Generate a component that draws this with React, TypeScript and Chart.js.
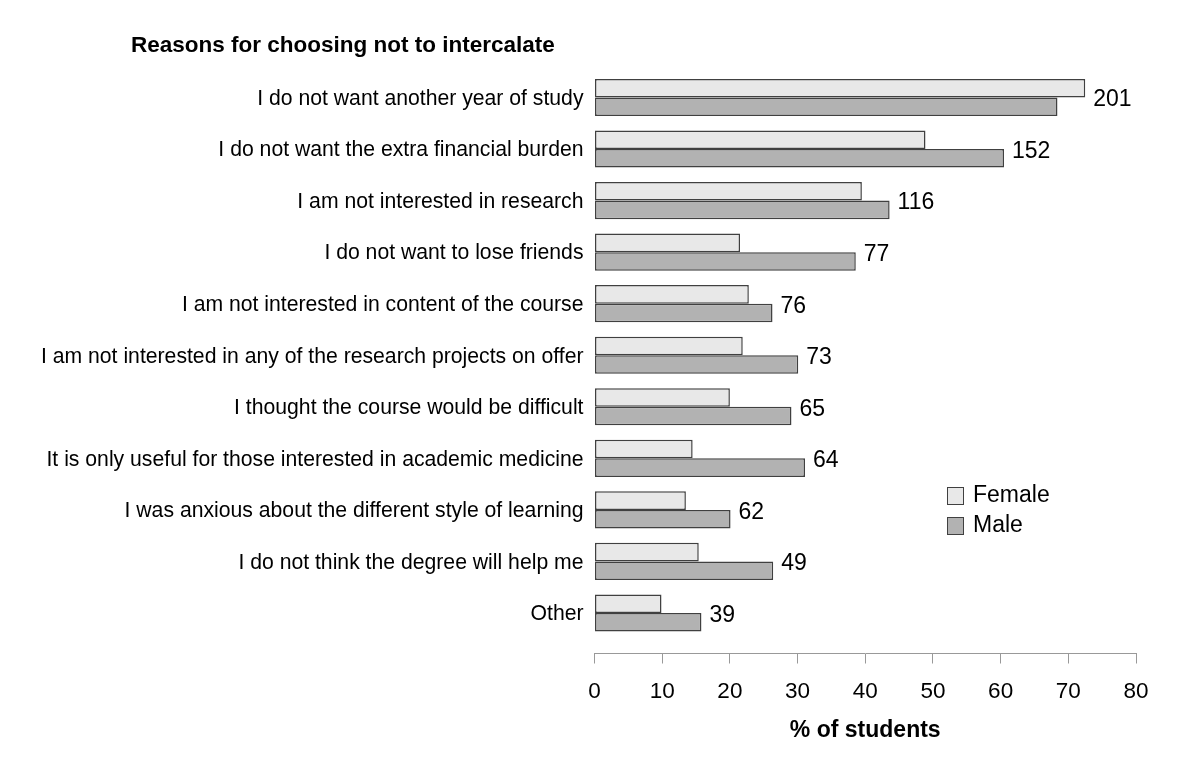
import React, { useEffect, useRef } from 'react';
import { Chart, registerables } from 'chart.js';

Chart.register(...registerables);

const chartTitle = 'Reasons for choosing not to intercalate';
const xAxisTitle = '% of students';

const categories = [
  'I do not want another year of study',
  'I do not want the extra financial burden',
  'I am not interested in research',
  'I do not want to lose friends',
  'I am not interested in content of the course',
  'I am not interested in any of the research projects on offer',
  'I thought the course would be difficult',
  'It is only useful for those interested in academic medicine',
  'I was anxious about the different style of learning',
  'I do not think the degree will help me',
  'Other',
];

const femaleValues = [72.5, 48.9, 39.5, 21.5, 22.8, 21.9, 20.0, 14.5, 13.5, 15.4, 9.9];
const maleValues = [68.4, 60.5, 43.6, 38.6, 26.3, 30.1, 29.1, 31.1, 20.1, 26.4, 15.8];
const respondentCounts = [201, 152, 116, 77, 76, 73, 65, 64, 62, 49, 39];

const xMin = 0;
const xMax = 80;
const xStep = 10;

const FONT = '"Liberation Sans", Arial, Helvetica, sans-serif';

const overlayPlugin = {
  id: 'overlay',
  afterDatasetsDraw(chart: any) {
    const { ctx } = chart;
    const x = chart.scales.x;
    const y = chart.scales.y;
    ctx.save();
    // value labels (number of respondents)
    ctx.font = `23px ${FONT}`;
    ctx.fillStyle = '#000';
    ctx.textAlign = 'left';
    ctx.textBaseline = 'middle';
    respondentCounts.forEach((n, i) => {
      const v = Math.max(femaleValues[i], maleValues[i]);
      ctx.fillText(String(n), x.getPixelForValue(v) + 8, y.getPixelForValue(i) + 2.5);
    });

    // legend
    const lx = 947;
    const ly = 487;
    const gap = 30;
    chart.data.datasets.forEach((ds: any, i: number) => {
      const top = ly + i * gap;
      ctx.fillStyle = ds.backgroundColor;
      ctx.fillRect(lx, top, 16, 17);
      ctx.strokeStyle = ds.borderColor;
      ctx.lineWidth = 1;
      ctx.strokeRect(lx + 0.5, top + 0.5, 16, 17);
      ctx.fillStyle = '#000';
      ctx.font = `23px ${FONT}`;
      ctx.textAlign = 'left';
      ctx.textBaseline = 'middle';
      ctx.fillText(ds.label, lx + 26, top + 9);
    });

    // title
    ctx.font = `bold 22.5px ${FONT}`;
    ctx.fillStyle = '#000';
    ctx.textAlign = 'left';
    ctx.textBaseline = 'middle';
    ctx.fillText(chartTitle, 131, 46);
    ctx.restore();
  },
};

export default function App() {
  const canvasRef = useRef<HTMLCanvasElement | null>(null);

  useEffect(() => {
    if (!canvasRef.current) return;
    const chart = new Chart(canvasRef.current, {
      type: 'bar',
      data: {
        datasets: [
          {
            label: 'Female',
            data: femaleValues.map((v, i) => ({ x: v, y: i })),
            backgroundColor: '#e8e8e8',
            borderColor: '#404040',
            borderWidth: 1.5,
            borderSkipped: false,
            categoryPercentage: 0.72,
            barPercentage: 1,
          },
          {
            label: 'Male',
            data: maleValues.map((v, i) => ({ x: v, y: i })),
            backgroundColor: '#b2b2b2',
            borderColor: '#404040',
            borderWidth: 1.5,
            borderSkipped: false,
            categoryPercentage: 0.72,
            barPercentage: 1,
          },
        ],
      },
      options: {
        indexAxis: 'y',
        animation: false,
        responsive: false,
        devicePixelRatio: 1,
        layout: { padding: { top: 71.7, right: 64, bottom: 0, left: 0 } },
        plugins: {
          legend: { display: false },
          title: { display: false },
          tooltip: { enabled: false },
        },
        scales: {
          x: {
            type: 'linear',
            position: 'bottom',
            min: xMin,
            max: xMax,
            ticks: {
              stepSize: xStep,
              color: '#000',
              font: { family: FONT, size: 22.5 },
              padding: 15,
            },
            grid: {
              display: true,
              drawOnChartArea: false,
              drawTicks: true,
              tickLength: 10,
              color: '#999',
              lineWidth: 1,
            },
            border: { display: true, color: '#999', width: 1 },
            title: {
              display: true,
              text: xAxisTitle,
              color: '#000',
              font: { family: FONT, size: 23, weight: 'bold' },
              padding: { top: 0, bottom: 22 },
            },
            afterFit: (scale: any) => {
              scale.height = 112.5;
            },
          },
          y: {
            type: 'linear',
            reverse: true,
            offset: false,
            min: -0.5,
            max: 10.786,
            afterBuildTicks: (scale: any) => {
              scale.ticks = categories.map((_, i) => ({ value: i }));
            },
            afterFit: (scale: any) => {
              scale.width = 594.5;
            },
            ticks: {
              autoSkip: false,
              color: '#000',
              font: { family: FONT, size: 21.2 },
              padding: 11,
              labelOffset: 1.5,
              callback: (value: any) => categories[value as number] ?? '',
            },
            grid: { display: false, drawTicks: false, offset: false },
            border: { display: false },
          },
        },
      },
      plugins: [overlayPlugin],
    } as any);
    return () => chart.destroy();
  }, []);

  return (
    <div style={{ position: 'absolute', left: 0, top: 0, width: 1200, height: 766, background: '#fff' }}>
      <canvas ref={canvasRef} width={1200} height={766} style={{ display: 'block' }} />
    </div>
  );
}
